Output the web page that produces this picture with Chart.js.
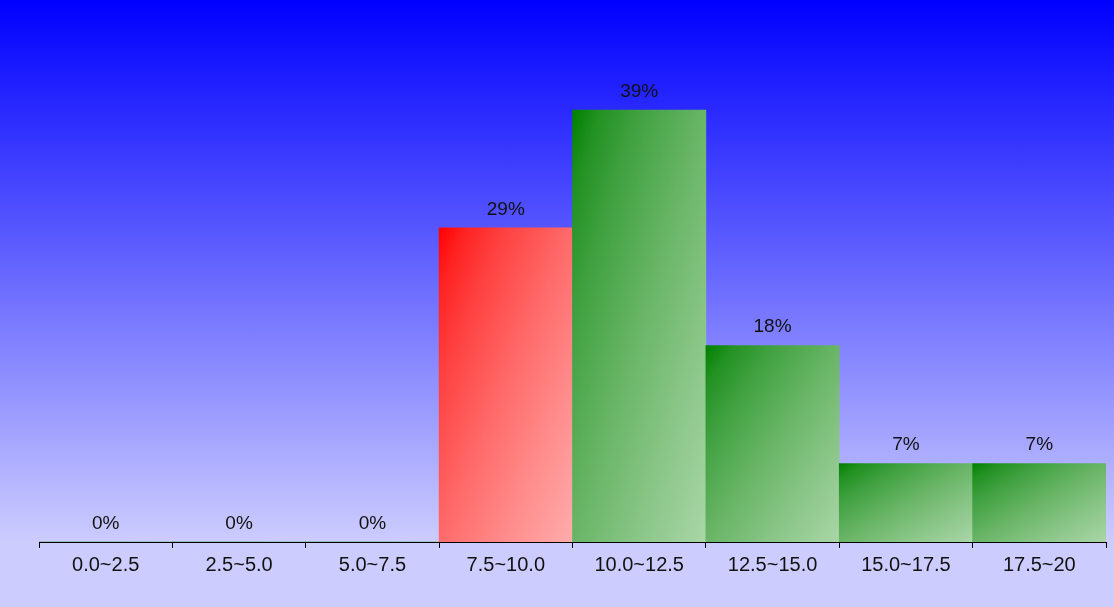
<!DOCTYPE html>
<html>
<head>
<meta charset="utf-8">
<script src="https://cdn.jsdelivr.net/npm/chart.js@4/dist/chart.umd.min.js"></script>
<style>
  html, body { margin: 0; padding: 0; }
  body { width: 1114px; height: 607px; background: linear-gradient(to bottom, #0000ff 0px, #ccccff 541px, #ccccff 607px); }
  #wrap { position: relative; width: 1114px; height: 607px; }
</style>
</head>
<body>
<div id="wrap"><canvas id="histChart"></canvas></div>
<script>
// bins and share of samples (%)
const binLabels = ['0.0~2.5', '2.5~5.0', '5.0~7.5', '7.5~10.0', '10.0~12.5', '12.5~15.0', '15.0~17.5', '17.5~20'];
const binValues = [0, 0, 0, 28.57, 39.29, 17.86, 7.14, 7.14];
const valueText = ['0%', '0%', '0%', '29%', '39%', '18%', '7%', '7%'];
const highlightBin = 3;

// colour ramp, slightly eased towards the light end
const addRamp = function (g, from, to) {
    [0, 0.1, 0.25, 0.5, 0.75, 1].forEach(function (t) {
        const f = Math.pow(t, 0.7);
        const c = from.map(function (v, k) { return Math.round(v + (to[k] - v) * f); });
        g.addColorStop(t, 'rgb(' + c.join(',') + ')');
    });
};

// bounding-box diagonal gradient: dark top-left corner, light bottom-right corner
const barGradient = function (ctx) {
    const chart = ctx.chart;
    const xs = chart.scales.x, ys = chart.scales.y;
    const i = ctx.dataIndex;
    const red = i === highlightBin;
    if (!chart.chartArea || !xs || !ys) return red ? '#ff6666' : '#66aa66';
    const w = xs.getPixelForValue(1) - xs.getPixelForValue(0);
    const x0 = xs.getPixelForValue(i) - w / 2;
    const y0 = ys.getPixelForValue(binValues[i]);
    const h = Math.max(ys.getPixelForValue(0) - y0, 1);
    const k = 2 * w * h / (w * w + h * h);
    const g = chart.ctx.createLinearGradient(x0, y0, x0 + h * k, y0 + w * k);
    if (red) {
        addRamp(g, [255, 0, 0], [255, 172, 172]);
    } else {
        addRamp(g, [0, 128, 0], [170, 214, 168]);
    }
    return g;
};

// percent labels above each bar
const valueLabels = {
    id: 'valueLabels',
    afterDatasetsDraw(chart) {
        const c = chart.ctx;
        const meta = chart.getDatasetMeta(0);
        c.save();
        c.font = '19px "Liberation Sans", Arial, sans-serif';
        c.fillStyle = '#111';
        c.textAlign = 'center';
        c.textBaseline = 'bottom';
        meta.data.forEach(function (bar, i) {
            c.fillText(valueText[i], bar.x, bar.y - 9);
        });
        c.restore();
    }
};

new Chart(document.getElementById('histChart'), {
    type: 'bar',
    data: {
        labels: binLabels,
        datasets: [{
            data: binValues,
            backgroundColor: barGradient,
            borderWidth: 0,
            barPercentage: 1,
            categoryPercentage: 1
        }]
    },
    options: {
        responsive: true,
        maintainAspectRatio: false,
        animation: false,
        layout: { padding: { left: 39, right: 8, top: 0, bottom: 25 } },
        scales: {
            y: {
                display: false,
                min: 0,
                max: 49.3
            },
            x: {
                grid: {
                    drawOnChartArea: false,
                    color: '#000',
                    tickLength: 6,
                    offset: true
                },
                border: { color: '#000', width: 1 },
                ticks: {
                    color: '#111',
                    padding: 5,
                    font: { family: '"Liberation Sans", Arial, sans-serif', size: 20 }
                }
            }
        },
        plugins: {
            legend: { display: false },
            tooltip: { enabled: false }
        }
    },
    plugins: [valueLabels]
});
</script>
</body>
</html>
